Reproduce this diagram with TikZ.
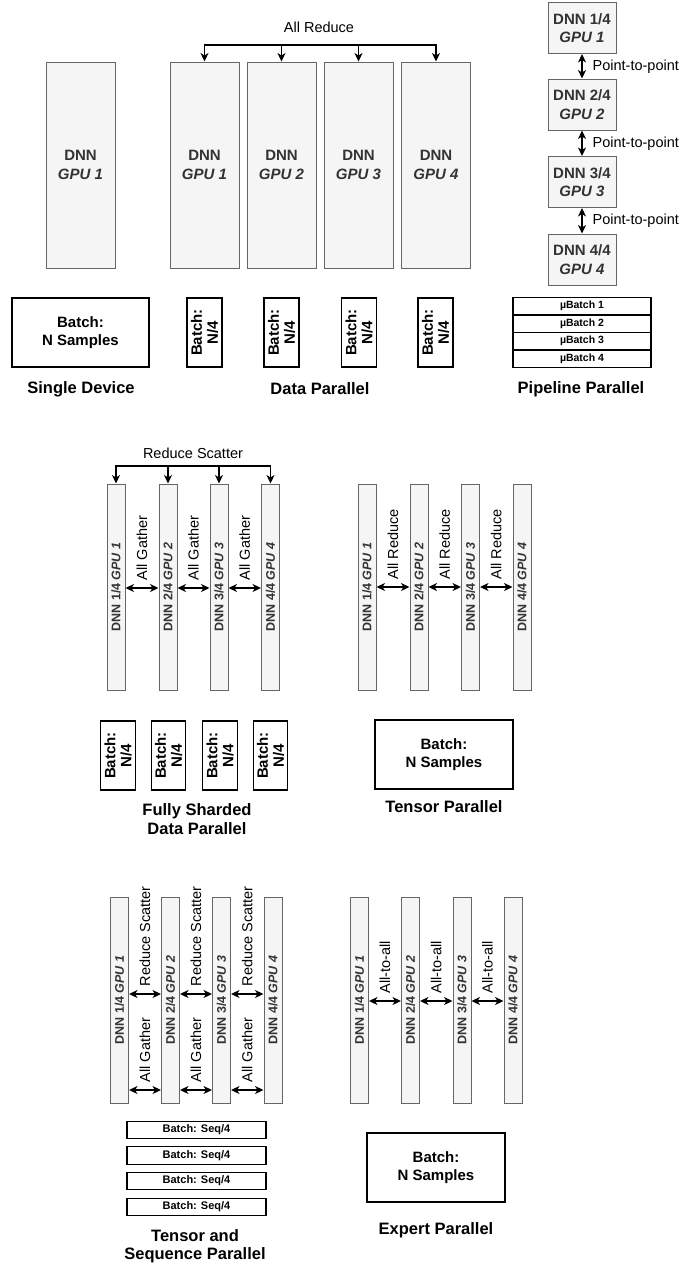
\documentclass[tikz,border=0pt]{standalone}
\usepackage{fontspec}
\setmainfont{Liberation Sans}
\usetikzlibrary{arrows.meta}
\definecolor{boxfill}{HTML}{F5F5F5}
\definecolor{boxline}{HTML}{666666}
\definecolor{boxtext}{HTML}{333333}
\newcommand{\gpu}[1]{\textbf{\textit{GPU #1}}}
\tikzset{
  dnnbox/.style={draw=boxline, fill=boxfill, line width=1pt, inner sep=0pt, text=boxtext, align=center, font=\fontsize{15}{18.5}\selectfont\bfseries},
  barbox/.style={draw=boxline, fill=boxfill, line width=1pt, inner sep=0pt, minimum width=18pt, minimum height=206pt},
  bartext/.style={rotate=90, text=boxtext, font=\fontsize{12.5}{14}\selectfont\bfseries, inner sep=0pt},
  batchbox/.style={draw=black, line width=1.3pt, fill=white, inner sep=0pt, align=center, font=\fontsize{15}{18.5}\selectfont\bfseries},
  vbatch/.style={rotate=90, font=\fontsize{15}{16}\selectfont\bfseries, align=center, inner sep=0pt},
  ubatch/.style={draw=black, line width=1.3pt, fill=white, inner sep=0pt, minimum width=138pt, minimum height=17.5pt, font=\fontsize{10.5}{12}\selectfont\bfseries},
  seqbatch/.style={draw=black, line width=1.3pt, fill=white, inner sep=0pt, minimum width=139pt, minimum height=17.5pt, font=\fontsize{11}{12}\selectfont\bfseries},
  lbl/.style={font=\fontsize{14.5}{17}\selectfont, inner sep=0pt},
  rlbl/.style={rotate=90, anchor=west, font=\fontsize{14.5}{17}\selectfont, inner xsep=7pt, inner ysep=0pt},
  ttl/.style={font=\fontsize{16.5}{18.5}\selectfont\bfseries, align=center, inner sep=0pt},
  arr/.style={line width=1.3pt, -{Stealth[length=8.5pt,width=8pt,inset=2.5pt]}},
  darr/.style={line width=1.3pt, {Stealth[length=8.5pt,width=8pt,inset=2.5pt]}-{Stealth[length=8.5pt,width=8pt,inset=2.5pt]}}
}
\begin{document}
\begin{tikzpicture}[x=1pt,y=-1pt]
\useasboundingbox (0,0) rectangle (698,1272);

% ---------- Single Device ----------
\node[dnnbox, minimum width=69pt, minimum height=206pt] (sd) at (80.5,165) {DNN\\\gpu{1}};
\node[batchbox, minimum width=137pt, minimum height=69pt] (sdb) at (80.5,332.5) {Batch:\\N Samples};
\node[ttl] (sdt) at (81,389) {Single Device};

% ---------- Data Parallel ----------
\node[dnnbox, minimum width=69pt, minimum height=206pt] (d1) at (204.5,165) {DNN\\\gpu{1}};
\node[dnnbox, minimum width=69pt, minimum height=206pt] (d2) at (281.5,165) {DNN\\\gpu{2}};
\node[dnnbox, minimum width=69pt, minimum height=206pt] (d3) at (358.5,165) {DNN\\\gpu{3}};
\node[dnnbox, minimum width=69pt, minimum height=206pt] (d4) at (436,165) {DNN\\\gpu{4}};
\coordinate (arline) at (320,45);
\node[lbl] (arlbl) at (319,27) {All Reduce};
\draw[darr] (d1.north) -- (d1 |- arline) -- (d4 |- arline) -- (d4.north);
\draw[arr] (d2 |- arline) -- (d2.north);
\draw[arr] (d3 |- arline) -- (d3.north);
\foreach \i/\x in {1/204.5,2/281.5,3/359,4/435.5}{
  \node[draw=black, line width=1.3pt, fill=white, minimum width=35pt, minimum height=69pt, inner sep=0pt] (db\i) at (\x,332.5) {};
  \node[vbatch] (dbt\i) at (db\i) {Batch:\\N/4};
}
\node[ttl] (dpt) at (320,389) {Data Parallel};

% ---------- Pipeline Parallel ----------
\node[dnnbox, minimum width=68pt, minimum height=51pt] (p1) at (582,28) {DNN 1/4\\\gpu{1}};
\node[dnnbox, minimum width=68pt, minimum height=51pt] (p2) at (582,104.5) {DNN 2/4\\\gpu{2}};
\node[dnnbox, minimum width=68pt, minimum height=51pt] (p3) at (582,182) {DNN 3/4\\\gpu{3}};
\node[dnnbox, minimum width=68pt, minimum height=51pt] (p4) at (582,259.5) {DNN 4/4\\\gpu{4}};
\draw[darr] (p1.south) -- node[lbl, anchor=west, xshift=10pt] (pp1) {Point-to-point} (p2.north);
\draw[darr] (p2.south) -- node[lbl, anchor=west, xshift=10pt] (pp2) {Point-to-point} (p3.north);
\draw[darr] (p3.south) -- node[lbl, anchor=west, xshift=10pt] (pp3) {Point-to-point} (p4.north);
\node[ubatch] (u1) at (582,306.25) {µBatch 1};
\node[ubatch] (u2) at (582,323.75) {µBatch 2};
\node[ubatch] (u3) at (582,341.25) {µBatch 3};
\node[ubatch] (u4) at (582,358.75) {µBatch 4};
\node[ttl] (ppt) at (581,389) {Pipeline Parallel};

% ---------- Fully Sharded Data Parallel ----------
\foreach \i/\x in {1/116,2/168,3/219,4/270.5}{
  \node[barbox] (f\i) at (\x,587) {};
  \node[bartext] (ft\i) at (f\i) {DNN \i/4 \gpu{\i}};
}
\coordinate (rsline) at (193,466);
\node[lbl] (rslbl) at (193,453) {Reduce Scatter};
\draw[darr] (f1.north) -- (f1 |- rsline) -- (f4 |- rsline) -- (f4.north);
\draw[arr] (f2 |- rsline) -- (f2.north);
\draw[arr] (f3 |- rsline) -- (f3.north);
\draw[darr] ([yshift=-1pt]f1.east) -- node[rlbl] (fg1) {All Gather} ([yshift=-1pt]f2.west);
\draw[darr] ([yshift=-1pt]f2.east) -- node[rlbl] (fg2) {All Gather} ([yshift=-1pt]f3.west);
\draw[darr] ([yshift=-1pt]f3.east) -- node[rlbl] (fg3) {All Gather} ([yshift=-1pt]f4.west);
\foreach \i/\x in {1/118,2/168.5,3/220,4/270.5}{
  \node[draw=black, line width=1.3pt, fill=white, minimum width=34.5pt, minimum height=69pt, inner sep=0pt] (fb\i) at (\x,755.5) {};
  \node[vbatch] (fbt\i) at (fb\i) {Batch:\\N/4};
}
\node[ttl] (fst) at (197,819) {Fully Sharded\\Data Parallel};

% ---------- Tensor Parallel ----------
\foreach \i/\x in {1/367,2/419,3/470.5,4/522}{
  \node[barbox] (t\i) at (\x,587) {};
  \node[bartext] (tt\i) at (t\i) {DNN \i/4 \gpu{\i}};
}
\draw[darr] (t1.east) -- node[rlbl] (tr1) {All Reduce} (t2.west);
\draw[darr] (t2.east) -- node[rlbl] (tr2) {All Reduce} (t3.west);
\draw[darr] (t3.east) -- node[rlbl] (tr3) {All Reduce} (t4.west);
\node[batchbox, minimum width=138pt, minimum height=69pt] (tb) at (444,754.5) {Batch:\\N Samples};
\node[ttl] (tpt) at (444,807) {Tensor Parallel};

% ---------- Tensor and Sequence Parallel ----------
\foreach \i/\x in {1/119.5,2/170.5,3/221.5,4/273}{
  \node[barbox] (s\i) at (\x,1000) {};
  \node[bartext] (st\i) at (s\i) {DNN \i/4 \gpu{\i}};
}
\draw[darr] ([yshift=6pt]s1.east) -- node[rlbl] (sr1) {Reduce Scatter} ([yshift=6pt]s2.west);
\draw[darr] ([yshift=6pt]s2.east) -- node[rlbl] (sr2) {Reduce Scatter} ([yshift=6pt]s3.west);
\draw[darr] ([yshift=6pt]s3.east) -- node[rlbl] (sr3) {Reduce Scatter} ([yshift=6pt]s4.west);
\draw[darr] ([yshift=-90pt]s1.east) -- node[rlbl] (sg1) {All Gather} ([yshift=-90pt]s2.west);
\draw[darr] ([yshift=-90pt]s2.east) -- node[rlbl] (sg2) {All Gather} ([yshift=-90pt]s3.west);
\draw[darr] ([yshift=-90pt]s3.east) -- node[rlbl] (sg3) {All Gather} ([yshift=-90pt]s4.west);
\node[seqbatch] (sb1) at (196.5,1130) {Batch: Seq/4};
\node[seqbatch] (sb2) at (196.5,1155.5) {Batch: Seq/4};
\node[seqbatch] (sb3) at (196.5,1181) {Batch: Seq/4};
\node[seqbatch] (sb4) at (196.5,1207) {Batch: Seq/4};
\node[ttl] (tspt) at (195,1246) {Tensor and\\Sequence Parallel};

% ---------- Expert Parallel ----------
\foreach \i/\x in {1/359.5,2/410.5,3/462,4/513}{
  \node[barbox] (e\i) at (\x,1000) {};
  \node[bartext] (et\i) at (e\i) {DNN \i/4 \gpu{\i}};
}
\draw[darr] ([yshift=-1pt]e1.east) -- node[rlbl] (ea1) {All-to-all} ([yshift=-1pt]e2.west);
\draw[darr] ([yshift=-1pt]e2.east) -- node[rlbl] (ea2) {All-to-all} ([yshift=-1pt]e3.west);
\draw[darr] ([yshift=-1pt]e3.east) -- node[rlbl] (ea3) {All-to-all} ([yshift=-1pt]e4.west);
\node[batchbox, minimum width=138pt, minimum height=69pt] (eb) at (436,1167.5) {Batch:\\N Samples};
\node[ttl] (ept) at (436,1230) {Expert Parallel};
\end{tikzpicture}
\end{document}
